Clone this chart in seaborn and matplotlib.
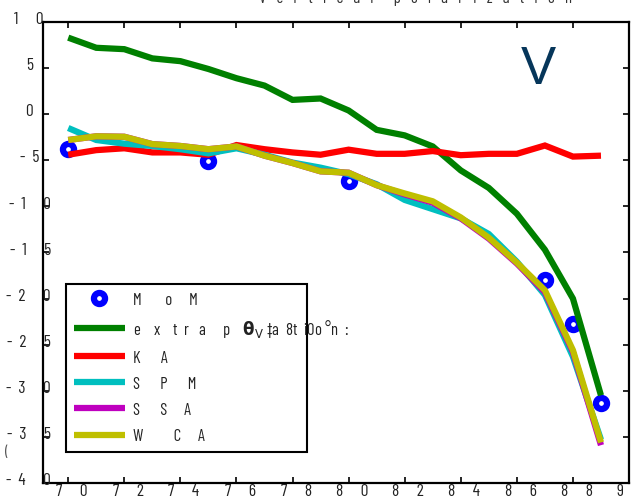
import matplotlib
matplotlib.use("Agg")
import matplotlib.pyplot as plt
import numpy as np
import pandas as pd
import seaborn as sns
from matplotlib.lines import Line2D

# ---------------- data ----------------
angles = list(range(70, 90))
extrap = [8.3, 7.2, 7.05, 6.05, 5.75, 4.9, 3.9, 3.1, 1.55, 1.7,
          0.4, -1.7, -2.3, -3.5, -6.1, -8.0, -10.8, -14.7, -20.0, -30.5]
ka = [-4.4, -3.9, -3.7, -4.15, -4.15, -4.4, -3.35, -3.8, -4.15, -4.4,
      -3.85, -4.3, -4.3, -4.0, -4.45, -4.3, -4.3, -3.4, -4.6, -4.5]
spm = [-1.5, -2.8, -3.2, -3.45, -3.8, -4.25, -3.7, -4.4, -5.25, -5.8,
       -6.5, -7.6, -9.3, -10.3, -11.3, -13.0, -16.0, -19.6, -26.3, -35.3]
ssa = [-2.8, -2.4, -2.45, -3.25, -3.45, -3.8, -3.5, -4.5, -5.3, -6.2,
       -6.35, -7.7, -8.7, -9.6, -11.3, -13.5, -16.2, -19.3, -25.8, -35.9]
wca = [-2.8, -2.4, -2.45, -3.25, -3.45, -3.8, -3.5, -4.5, -5.3, -6.2,
       -6.35, -7.7, -8.6, -9.45, -11.2, -13.4, -16.1, -19.1, -25.6, -35.6]
mom_angles = [70, 75, 80, 87, 88, 89]
mom = [-3.8, -5.1, -7.3, -18.0, -22.8, -31.3]

models = ["extrap", "KA", "SPM", "SSA", "WCA"]
model_colors = ["#008000", "#ff0000", "#00bfbf", "#bf00bf", "#bfbf00"]
legend_labels = [
    "M       o     M",
    "e    x    t  r   a     p    $\\mathbf{\\theta}_{\\mathrm{V}}$ \u2021a  8t  i0o \u00b0n  :",
    "K      A",
    "S      P      M",
    "S      S     A",
    "W         C     A",
]
yticks = [10, 5, 0, -5, -10, -15, -20, -25, -30, -35, -40]
ytick_labels = ["1     0", "5", "0", "-  5", "-  1     0", "-  1     5", "-  2     0",
                "-  2     5", "-  3     0", "-  3     5", "-  4     0"]
xticks = [70, 72, 74, 76, 78, 80, 82, 84, 86, 88, 90]
xtick_labels = ["7     0", "7     2", "7     4", "7     6", "7     8", "8     0",
                "8     2", "8     4", "8     6", "8     8", "9     0"]
title_text = "V   e   r   t   i   c   a   l      p   o   l   a   r   i   z   a   t   i   o   n"
badge_text = "V"

# ---------------- style ----------------
sns.set_style("white")
plt.rcParams["font.family"] = ["Barlow Condensed", "Liberation Sans", "DejaVu Sans"]
plt.rcParams["mathtext.fontset"] = "dejavusans"

fig = plt.figure(figsize=(6.33, 4.97), dpi=100)
fig.patch.set_facecolor("white")
ax = fig.add_axes([0.0679, 0.0282, 0.9258, 0.9276])

df = pd.DataFrame({"angle": angles, "extrap": extrap, "KA": ka, "SPM": spm,
                   "SSA": ssa, "WCA": wca})
long = df.melt(id_vars="angle", var_name="model", value_name="value")

# MoM markers (drawn below the lines)
sns.scatterplot(x=mom_angles, y=mom, marker="o", s=64, linewidth=4.5,
                ax=ax, legend=False, zorder=1)
coll = ax.collections[-1]
coll.set_facecolor("white")
coll.set_edgecolor("#0000ff")
coll.set_linewidth(4.5)

sns.lineplot(data=long, x="angle", y="value", hue="model", hue_order=models,
             palette=model_colors, linewidth=4.5, estimator=None, sort=False,
             legend=False, ax=ax, zorder=2)
for ln in ax.get_lines():
    ln.set_solid_capstyle("butt")
    ln.set_solid_joinstyle("miter")

ax.set_xlim(69.1, 90)
ax.set_ylim(-40, 10)
ax.set_xlabel("")
ax.set_ylabel("")
ax.set_xticks(xticks)
ax.set_yticks(yticks)
ax.tick_params(direction="in", length=4, width=1.2, color="black",
               top=True, right=True, bottom=True, left=True,
               labelbottom=False, labelleft=False)
for sp in ax.spines.values():
    sp.set_visible(True)
    sp.set_color("black")
    sp.set_linewidth(1.6)

# y tick labels (garbled spacing as in reference)
ytr = ax.get_yaxis_transform()
ax_w = 586.0
right_px = {10: 44, 5: 33, 0: 33, -5: 39}
for v, lab in zip(yticks, ytick_labels):
    rp = right_px.get(v, 51)
    ax.text((rp - 43) / ax_w, v + 0.25, lab, transform=ytr, ha="right", va="center",
            fontsize=12.5, color="#222222", clip_on=False)

xtr = ax.get_xaxis_transform()
for v, lab in zip(xticks, xtick_labels):
    ax.text(v + 0.13, -0.0175, lab, transform=xtr, ha="center", va="center",
            fontsize=12.5, color="#222222", clip_on=False)

# title (cut off at the top like the reference)
fig.text(0.657, 1 - 2.5 / 497, title_text, ha="center", va="baseline",
         fontsize=12, color="#333333")
fig.text(7 / 633, 1 - 452 / 497, "(", ha="center", va="center", fontsize=11,
         color="#555555")

# big V badge
ax.text(0.845, 0.895, badge_text, transform=ax.transAxes, ha="center", va="center",
        fontsize=38, color="#06365a", family=["Liberation Sans", "DejaVu Sans"])

# legend
handles = [Line2D([], [], marker="o", ls="", ms=8, mew=4.5, mfc="white", mec="#0000ff")]
for c in model_colors:
    handles.append(Line2D([], [], color=c, lw=4.5, solid_capstyle="butt"))
leg = ax.legend(handles, legend_labels, loc="upper left",
                bbox_to_anchor=(0.039, 0.3317, 0.4115, 0.1), mode="expand",
                frameon=True, fancybox=False, edgecolor="black", framealpha=1,
                borderpad=0.46, labelspacing=0.57, handlelength=3.1,
                handleheight=1.1, handletextpad=0.48, fontsize=12,
                borderaxespad=0)
leg.get_frame().set_linewidth(1.5)
for t in leg.get_texts():
    t.set_color("#222222")

fig.savefig("out.png", dpi=100)
